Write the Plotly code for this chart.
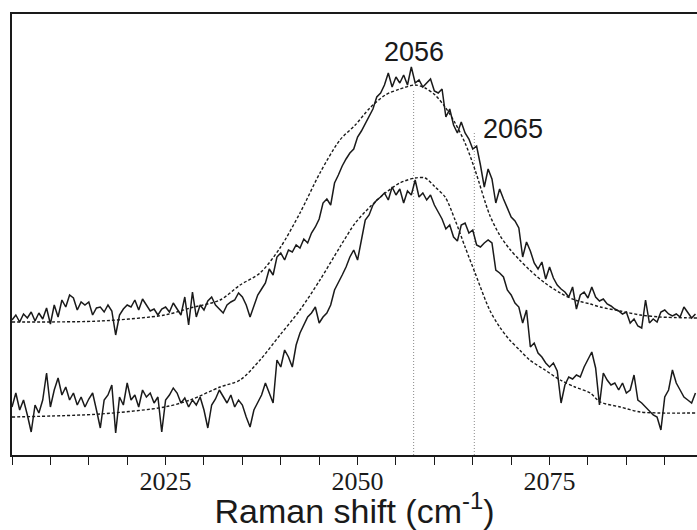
import plotly.graph_objects as go

# Raman shift grid of the measured spectra (cm^-1)
shift_start = 2005.0
shift_step = 0.5

# Upper spectrum (arbitrary intensity units)
upper_counts = [
    135, 140, 133, 141, 137, 143, 134, 142, 136, 147, 131, 150, 138, 155, 148, 160, 157, 145, 153, 150,
    153, 140, 147, 148, 143, 150, 144, 120, 140, 146, 150, 148, 155, 145, 156, 150, 144, 146, 140, 146,
    148, 143, 152, 146, 140, 158, 130, 163, 138, 150, 145, 154, 158, 150, 146, 142, 150, 153, 155, 162,
    158, 150, 138, 150, 160, 166, 172, 186, 180, 198, 202, 195, 205, 203, 210, 207, 216, 212, 222, 228,
    236, 252, 256, 250, 272, 280, 289, 296, 302, 306, 318, 324, 331, 338, 346, 358, 362, 370, 382, 368,
    378, 372, 380, 370, 388, 372, 375, 368, 372, 376, 364, 362, 366, 338, 346, 330, 322, 333, 322, 316,
    306, 309, 290, 268, 286, 276, 252, 266, 256, 246, 238, 234, 227, 198, 213, 204, 192, 186, 193, 176,
    188, 177, 170, 166, 163, 158, 168, 146, 160, 163, 157, 168, 158, 154, 156, 151, 149, 146, 144, 141,
    143, 132, 136, 129, 127, 155, 132, 136, 133, 143, 145, 141, 139, 141, 138, 148, 142, 137, 141,
]

# Lower spectrum (arbitrary intensity units)
lower_counts = [
    48, 62, 45, 55, 40, 23, 50, 42, 55, 82, 48, 65, 77, 60, 68, 55, 62, 50, 58, 48,
    56, 62, 45, 27, 55, 60, 70, 22, 58, 50, 72, 55, 60, 48, 65, 58, 62, 52, 58, 23,
    55, 60, 67, 62, 52, 57, 48, 55, 50, 58, 45, 27, 50, 56, 65, 58, 52, 60, 48, 55,
    50, 38, 28, 45, 52, 60, 72, 62, 52, 95, 88, 105, 98, 88, 110, 122, 130, 138, 142, 148,
    132, 138, 142, 150, 165, 172, 180, 188, 198, 205, 195, 215, 235, 240, 250, 255, 258, 262, 255, 268,
    260, 266, 252, 264, 260, 275, 258, 262, 255, 260, 250, 243, 236, 226, 230, 218, 214, 230, 232, 222,
    225, 210, 208, 212, 215, 212, 185, 182, 178, 165, 160, 152, 148, 132, 145, 108, 112, 102, 98, 92,
    88, 92, 84, 52, 70, 78, 76, 80, 78, 88, 95, 103, 87, 50, 82, 75, 70, 72, 65, 72,
    62, 65, 80, 55, 52, 48, 45, 40, 38, 25, 58, 65, 85, 72, 65, 58, 55, 52, 62,
]

# Fitted curves (dashed)
fit_shift = [
    2005.0, 2016.5, 2024.9, 2028.2, 2032.1, 2034.7, 2037.3, 2039.9, 2042.5, 2045.1,
    2047.7, 2049.7, 2051.6, 2053.6, 2055.5, 2057.5, 2058.8, 2060.1, 2061.4, 2062.7,
    2064.0, 2065.3, 2067.2, 2068.5, 2069.8, 2071.1, 2072.4, 2074.4, 2076.4, 2078.3,
    2080.3, 2081.6, 2084.2, 2086.8, 2089.4, 2094.2,
]
upper_fit = [
    133, 134, 140, 147, 155, 170, 182, 207, 242, 282,
    315, 330, 347, 360, 366, 370, 367, 360, 348, 332,
    312, 285, 240, 220, 206, 195, 185, 172, 162, 155,
    151, 148, 144, 140, 138, 137,
]
lower_fit = [
    38, 41, 48, 55, 68, 75, 95, 120, 145, 175,
    208, 232, 248, 262, 272, 277, 277, 268, 258, 235,
    208, 182, 145, 128, 115, 105, 95, 85, 75, 68,
    62, 53, 48, 43, 42, 42,
]

# Peak markers
peak_labels = ["2056", "2065"]
peak_line_x = [2057.3, 2065.2]
peak_line_top = [365, 322]
peak_label_x = [2057.3, 2070.2]
peak_label_y = [403, 326]

x_spec = [shift_start + shift_step * i for i in range(len(upper_counts))]

fig = go.Figure()

for px, top in zip(peak_line_x, peak_line_top):
    fig.add_trace(go.Scatter(x=[px, px], y=[0, top], mode="lines",
                             line=dict(color="#8a8a8a", width=1, dash="1px,2px"),
                             hoverinfo="skip", showlegend=False))

for fit in (upper_fit, lower_fit):
    fig.add_trace(go.Scatter(x=fit_shift, y=fit, mode="lines",
                             line=dict(color="#1a1a1a", width=1.4, dash="3px,2px", shape="spline", smoothing=0.8),
                             showlegend=False))

for spec in (upper_counts, lower_counts):
    fig.add_trace(go.Scatter(x=x_spec, y=spec, mode="lines",
                             line=dict(color="#1a1a1a", width=1.5),
                             showlegend=False))

for txt, ax, ay in zip(peak_labels, peak_label_x, peak_label_y):
    fig.add_annotation(x=ax, y=ay, text=txt, showarrow=False,
                       font=dict(family="Liberation Sans, Arial", size=27, color="#1a1a1a"),
                       xanchor="center", yanchor="middle")

fig.update_layout(
    width=697, height=530,
    margin=dict(l=12, r=0, t=14, b=75),
    paper_bgcolor="white", plot_bgcolor="white",
    showlegend=False,
)
fig.update_xaxes(
    range=[2005.0, 2094.2],
    showline=True, linecolor="#1a1a1a", linewidth=2, mirror=True,
    showgrid=False, zeroline=False,
    ticks="outside", ticklen=8, tickwidth=1.2, tickcolor="#1a1a1a",
    tick0=2025, dtick=25, ticklabelstandoff=-6,
    minor=dict(ticks="outside", ticklen=8, tickwidth=1.2, tickcolor="#1a1a1a", dtick=5, tick0=2025, showgrid=False),
    tickfont=dict(family="Liberation Serif, Times New Roman", size=26, color="#1a1a1a"),
    title=dict(text="Raman shift (cm<sup>-1</sup>)",
               font=dict(family="Liberation Sans, Arial", size=34, color="#1a1a1a"),
               standoff=0),
)
fig.update_yaxes(
    range=[0, 441],
    showline=True, linecolor="#1a1a1a", linewidth=2, mirror=False,
    showgrid=False, zeroline=False, showticklabels=False, ticks="",
)

fig.write_html("out.html")
